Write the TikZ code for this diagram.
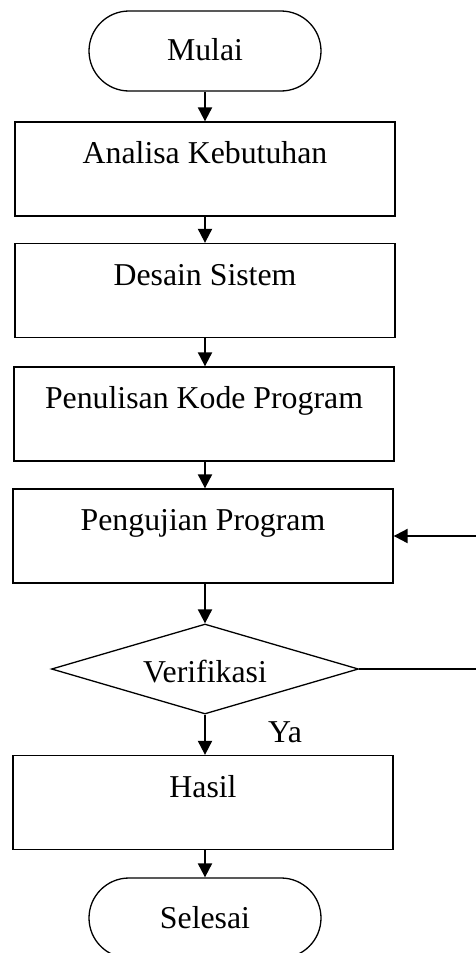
\documentclass[tikz,border=0pt]{standalone}
\usepackage{fontspec}
\setmainfont{Liberation Serif}
\usetikzlibrary{arrows.meta,shapes.geometric}
\begin{document}
\begin{tikzpicture}[x=1pt,y=-1pt,
  box/.style={draw,line width=1.3pt,minimum width=380pt,minimum height=94pt,inner sep=0pt},
  term/.style={draw,line width=1.3pt,minimum width=232pt,minimum height=80pt,rounded corners=40pt,inner sep=0pt},
  dec/.style={draw,line width=1.3pt,diamond,minimum width=307pt,minimum height=90pt,inner sep=0pt},
  txt/.style={font=\fontsize{31.8}{38}\selectfont,inner sep=0pt,anchor=base},
  flow/.style={line width=2pt,-{Triangle[length=14pt,width=14pt]}},
  plain/.style={line width=1.3pt}]
\useasboundingbox (0,0) rectangle (476,953);
\clip (0,0) rectangle (476,953);
% terminators and boxes
\node[term] (mulai) at (205,51) {};
\node[txt] (tmulai) at (205,60) {Mulai};
\node[box] (analisa) at (205,169) {};
\node[txt] (tanalisa) at (205,163) {Analisa Kebutuhan};
\node[box] (desain) at (205,290.5) {};
\node[txt] (tdesain) at (205,285) {Desain Sistem};
\node[box] (penulisan) at (204,414) {};
\node[txt] (tpenulisan) at (204,408) {Penulisan Kode Program};
\node[box] (pengujian) at (203,536) {};
\node[txt] (tpengujian) at (203,530) {Pengujian Program};
\node[dec] (verif) at (205,669) {};
\node[txt] (tverif) at (205,682) {Verifikasi};
\node[txt] (ya) at (285,742) {Ya};
\node[box] (hasil) at (203,802.5) {};
\node[txt] (thasil) at (203,797) {Hasil};
\node[term] (selesai) at (205,918) {};
\node[txt] (tselesai) at (205,928) {Selesai};
\coordinate (edgeA) at (480,536);
\coordinate (edgeB) at (480,669);
% connectors
\draw[flow] (mulai.south) -- (analisa.north -| mulai.south);
\draw[flow] (analisa.south -| mulai.south) -- (desain.north -| mulai.south);
\draw[flow] (desain.south -| mulai.south) -- (penulisan.north -| mulai.south);
\draw[flow] (penulisan.south -| mulai.south) -- (pengujian.north -| mulai.south);
\draw[flow] (pengujian.south -| verif.north) -- (verif.north);
\draw[flow] (verif.south) -- (hasil.north -| verif.south);
\draw[flow] (hasil.south -| selesai.north) -- (selesai.north);
\draw[plain] (verif.east) -- (edgeB);
\draw[flow] (edgeA) -- (pengujian.east);
\end{tikzpicture}
\end{document}
